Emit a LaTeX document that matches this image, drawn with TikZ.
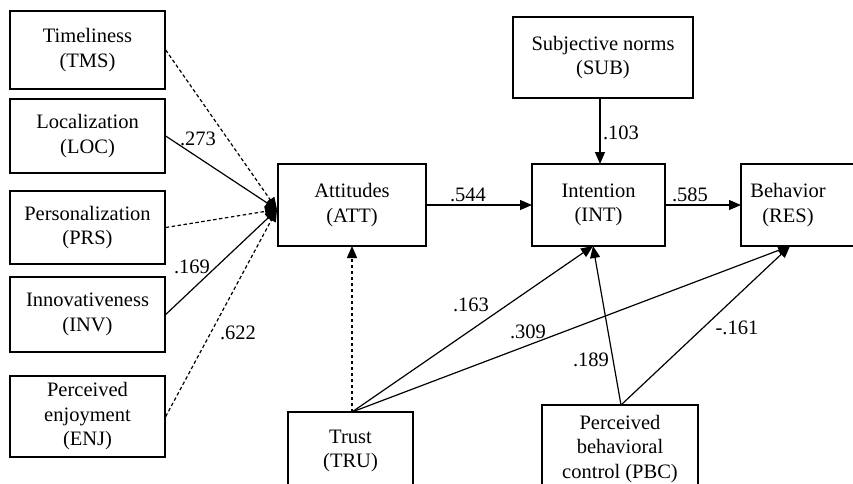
\documentclass[tikz,border=0pt]{standalone}
\usepackage{fontspec}
\setmainfont{Liberation Serif}
\usetikzlibrary{arrows.meta}
\begin{document}
\begin{tikzpicture}[x=1pt,y=-1pt,
  box/.style={draw,line width=1.4pt,align=center,inner sep=0pt,
    font=\fontsize{20.5}{24.5}\selectfont},
  lab/.style={inner sep=0pt,font=\fontsize{20.5}{24.5}\selectfont},
  conn/.style={line width=1.2pt,-{Triangle[length=12pt,width=10pt]}},
  dconn/.style={conn,dash pattern=on 3.5pt off 2.5pt}]
\clip (0,0) rectangle (853,483);
\fill[white] (0,0) rectangle (853,483);
% boxes
\node[box,minimum width=155pt,minimum height=78pt] (tms) at (87.5,50) {Timeliness\\(TMS)};
\node[box,minimum width=155pt,minimum height=74pt] (loc) at (87.5,136) {Localization\\(LOC)};
\node[box,minimum width=155pt,minimum height=73pt] (prs) at (87.5,227.5) {Personalization\\(PRS)};
\node[box,minimum width=155pt,minimum height=75pt] (inv) at (87.5,314.5) {Innovativeness\\(INV)};
\node[box,minimum width=155pt,minimum height=81pt] (enj) at (87.5,416.5) {Perceived\\enjoyment\\(ENJ)};
\node[box,minimum width=148pt,minimum height=82pt] (att) at (352,205) {Attitudes\\(ATT)};
\node[box,minimum width=133pt,minimum height=82pt] (int) at (598.5,205) {Intention\\(INT)};
\draw[line width=1.4pt] (741,164) rectangle (870,246);
\node[box,draw=none] (beh) at (788,205) {Behavior\\(RES)};
\node[box,minimum width=180pt,minimum height=81pt] (sub) at (603,57.5) {Subjective norms\\(SUB)};
\node[box,minimum width=125pt,minimum height=78pt] (tru) at (350.5,451) {Trust\\(TRU)};
\node[box,minimum width=156pt,minimum height=88pt] (pbc) at (620,449) {Perceived\\behavioral\\control (PBC)};
% coordinates
\coordinate (conv) at (277,209.5);
\coordinate (trutop) at (352,412);
\coordinate (attbot) at (352,246);
\coordinate (intbot) at (593,246);
\coordinate (behbot) at (790,246);
\coordinate (behleft) at (741,205);
\coordinate (pbctop) at (621,405);
\coordinate (subbot) at (600,98);
\coordinate (intleft) at (532,205);
\coordinate (inttop) at (600,164);
% connectors
\draw[dconn] (tms.east) -- (conv);
\draw[conn] (loc.east) -- (conv);
\draw[dconn] (prs.east) -- (conv);
\draw[conn] (inv.east) -- (conv);
\draw[dconn] (enj.east) -- (conv);
\draw[conn] (att.east) -- (intleft);
\draw[conn] (int.east) -- (behleft);
\draw[conn] (subbot) -- (inttop);
\draw[dconn] (trutop) -- (attbot);
\draw[conn] (trutop) -- (intbot);
\draw[conn] (trutop) -- (behbot);
\draw[conn] (pbctop) -- (intbot);
\draw[conn] (pbctop) -- (behbot);
% labels
\node[lab] (l1) at (198,139) {.273};
\node[lab] (l2) at (192,267) {.169};
\node[lab] (l3) at (238,333) {.622};
\node[lab] (l4) at (468,195) {.544};
\node[lab] (l5) at (621,133) {.103};
\node[lab] (l6) at (690,195) {.585};
\node[lab] (l7) at (471,305) {.163};
\node[lab] (l8) at (528,332) {.309};
\node[lab] (l9) at (591,360) {.189};
\node[lab] (l10) at (737,328) {-.161};
\end{tikzpicture}
\end{document}
